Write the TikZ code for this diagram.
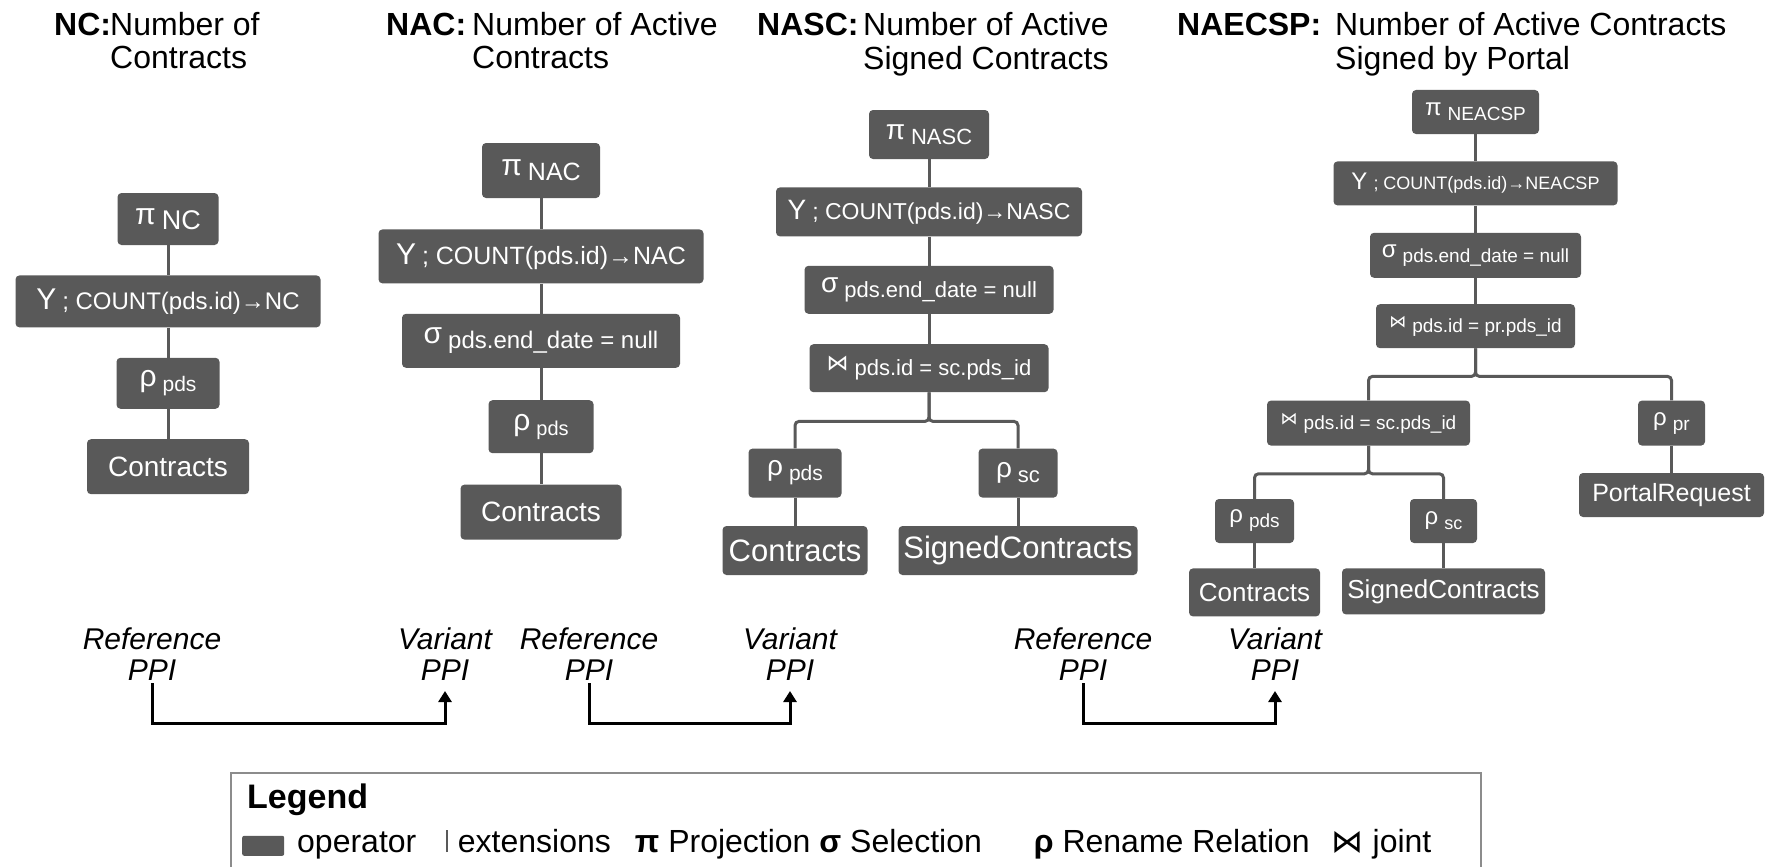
\documentclass[tikz,border=0pt]{standalone}
\usepackage{fontspec}
\setmainfont{Liberation Sans}
\newfontfamily\joinfont{DejaVu Sans}
\usetikzlibrary{positioning,arrows.meta}

\definecolor{opgray}{HTML}{595959}
\definecolor{legendline}{HTML}{8C8C8C}

% operator symbol with a lowered subscript
\newcommand{\opr}[5][5pt]{{\fontsize{#2}{#2}\selectfont #4}\hspace{6pt}\raisebox{-#1}{\fontsize{#3}{#3}\selectfont #5}}

\tikzset{
  op/.style={fill=opgray, rounded corners=4pt, text=white, inner sep=0pt},
  ext/.style={draw=opgray, line width=3pt},
  branch/.style={ext, rounded corners=4pt},
  hdr/.style={inner sep=0pt, anchor=base west, font=\fontsize{32}{33}\selectfont},
  ppi/.style={inner sep=0pt, anchor=base, font=\fontsize{30}{31}\selectfont\itshape},
  ppiarrow/.style={line width=3pt, -{Triangle[length=11pt,width=13pt]}},
  legtext/.style={inner sep=0pt, anchor=base west, font=\fontsize{32}{33}\selectfont},
}

\begin{document}
\begin{tikzpicture}[x=1pt, y=1pt]
    \useasboundingbox (0,0) rectangle (1765,-867);

    % Headers
    \node[hdr] (lNC) at (54,-36) {\bfseries NC:};
    \node[hdr] (tNC) at (110,-36) {\begin{tabular}[t]{@{}l@{}}Number of\\Contracts\end{tabular}};
    \node[hdr] (lNAC) at (386,-36) {\bfseries NAC:};
    \node[hdr] (tNAC) at (472,-36) {\begin{tabular}[t]{@{}l@{}}Number of Active\\Contracts\end{tabular}};
    \node[hdr] (lNASC) at (757,-36) {\bfseries NASC:};
    \node[hdr] (tNASC) at (863,-36) {\begin{tabular}[t]{@{}l@{}}Number of Active\\Signed Contracts\end{tabular}};
    \node[hdr] (lNAE) at (1177,-36) {\bfseries NAECSP:};
    \node[hdr] (tNAE) at (1335,-36) {\begin{tabular}[t]{@{}l@{}}Number of Active Contracts\\Signed by Portal\end{tabular}};

    % NC tree
    \node[op, minimum width=101pt, minimum height=52pt] (piNC) at (168,-219) {\opr{30}{27}{π}{NC}};
    \node[op, minimum width=305pt, minimum height=52pt, below=30pt of piNC] (gNC) {\opr[0pt]{30}{24}{Υ}{; COUNT(pds.id)→NC}};
    \node[op, minimum width=103pt, minimum height=51pt, below=30pt of gNC] (rNC) {\opr{30}{21}{ρ}{pds}};
    \node[op, minimum width=162pt, minimum height=55pt, below=30pt of rNC, font=\fontsize{28}{28}\selectfont] (cNC) {Contracts};
    \draw[ext] (piNC) -- (gNC);
    \draw[ext] (gNC) -- (rNC);
    \draw[ext] (rNC) -- (cNC);

    % NAC tree
    \node[op, minimum width=118pt, minimum height=55pt] (piNAC) at (541,-170.5) {\opr{30}{25}{π}{NAC}};
    \node[op, minimum width=325pt, minimum height=54pt, below=31pt of piNAC] (gNAC) {\opr[0pt]{30}{25}{Υ}{; COUNT(pds.id)→NAC}};
    \node[op, minimum width=278pt, minimum height=54pt, below=30pt of gNAC] (sNAC) {\opr{30}{24}{σ}{pds.end\_date = null}};
    \node[op, minimum width=105pt, minimum height=53pt, below=32pt of sNAC] (rNAC) {\opr{30}{20}{ρ}{pds}};
    \node[op, minimum width=161pt, minimum height=55pt, below=31pt of rNAC, font=\fontsize{28}{28}\selectfont] (cNAC) {Contracts};
    \draw[ext] (piNAC) -- (gNAC);
    \draw[ext] (gNAC) -- (sNAC);
    \draw[ext] (sNAC) -- (rNAC);
    \draw[ext] (rNAC) -- (cNAC);

    % NASC tree
    \node[op, minimum width=120pt, minimum height=49pt] (piNASC) at (929,-134.5) {\opr{28}{22}{π}{NASC}};
    \node[op, minimum width=306pt, minimum height=49pt, below=28pt of piNASC] (gNASC) {\opr[0pt]{28}{23}{Υ}{; COUNT(pds.id)→NASC}};
    \node[op, minimum width=249pt, minimum height=48pt, below=29pt of gNASC] (sNASC) {\opr{28}{22}{σ}{pds.end\_date = null}};
    \node[op, minimum width=239pt, minimum height=48pt, below=30pt of sNASC] (jNASC) {\opr{22}{22}{\joinfont ⋈}{pds.id = sc.pds\_id}};
    \node[op, minimum width=93pt, minimum height=49pt, below=56pt of jNASC, xshift=-134pt] (rpNASC) {\opr{28}{21}{ρ}{pds}};
    \node[op, minimum width=79pt, minimum height=49pt, below=56pt of jNASC, xshift=89pt] (rsNASC) {\opr{28}{22}{ρ}{sc}};
    \node[op, minimum width=145pt, minimum height=49pt, below=28pt of rpNASC, font=\fontsize{31}{31}\selectfont] (cNASC) {Contracts};
    \node[op, minimum width=239pt, minimum height=49pt, below=28pt of rsNASC, font=\fontsize{31}{31}\selectfont] (scNASC) {SignedContracts};
    \draw[ext] (piNASC) -- (gNASC);
    \draw[ext] (gNASC) -- (sNASC);
    \draw[ext] (sNASC) -- (jNASC);
    \draw[branch] (jNASC.south) -- ++(0,-29) -| (rpNASC.north);
    \draw[branch] (jNASC.south) -- ++(0,-29) -| (rsNASC.north);
    \draw[ext] (rpNASC) -- (cNASC);
    \draw[ext] (rsNASC) -- (scNASC);

    % NAECSP tree
    \node[op, minimum width=127pt, minimum height=44pt] (piNAE) at (1475.5,-112) {\opr{24}{19}{π}{NEACSP}};
    \node[op, minimum width=284pt, minimum height=44pt, below=27pt of piNAE] (gNAE) {\opr[0pt]{24}{18}{Υ}{; COUNT(pds.id)→NEACSP}};
    \node[op, minimum width=211pt, minimum height=45pt, below=27pt of gNAE] (sNAE) {\opr{24}{19}{σ}{pds.end\_date = null}};
    \node[op, minimum width=199pt, minimum height=44pt, below=26pt of sNAE] (jprNAE) {\opr{17}{19}{\joinfont ⋈}{pds.id = pr.pds\_id}};
    \node[op, minimum width=203pt, minimum height=45pt, below=52pt of jprNAE, xshift=-107pt] (jscNAE) {\opr{17}{19}{\joinfont ⋈}{pds.id = sc.pds\_id}};
    \node[op, minimum width=67pt, minimum height=45pt, below=52pt of jprNAE, xshift=196pt] (rprNAE) {\opr{24}{19}{ρ}{pr}};
    \node[op, minimum width=185pt, minimum height=44pt, below=27pt of rprNAE, font=\fontsize{25}{25}\selectfont] (prNAE) {PortalRequest};
    \node[op, minimum width=79pt, minimum height=44pt, below=53pt of jscNAE, xshift=-114pt] (rpNAE) {\opr{24}{19}{ρ}{pds}};
    \node[op, minimum width=67pt, minimum height=44pt, below=53pt of jscNAE, xshift=75pt] (rsNAE) {\opr{24}{18}{ρ}{sc}};
    \node[op, minimum width=131pt, minimum height=48pt, below=25pt of rpNAE, font=\fontsize{26}{26}\selectfont] (cNAE) {Contracts};
    \node[op, minimum width=203pt, minimum height=46pt, below=25pt of rsNAE, font=\fontsize{26}{26}\selectfont] (scNAE) {SignedContracts};
    \draw[ext] (piNAE) -- (gNAE);
    \draw[ext] (gNAE) -- (sNAE);
    \draw[ext] (sNAE) -- (jprNAE);
    \draw[branch] (jprNAE.south) -- ++(0,-28) -| (jscNAE.north);
    \draw[branch] (jprNAE.south) -- ++(0,-28) -| (rprNAE.north);
    \draw[ext] (rprNAE) -- (prNAE);
    \draw[branch] (jscNAE.south) -- ++(0,-28) -| (rpNAE.north);
    \draw[branch] (jscNAE.south) -- ++(0,-28) -| (rsNAE.north);
    \draw[ext] (rpNAE) -- (cNAE);
    \draw[ext] (rsNAE) -- (scNAE);

    % Reference -> Variant PPI
    \node[ppi] (ref1) at (152,-680) {\begin{tabular}[b]{@{}c@{}}Reference\\PPI\end{tabular}};
    \node[ppi] (var1) at (445,-680) {\begin{tabular}[b]{@{}c@{}}Variant\\PPI\end{tabular}};
    \node[ppi] (ref2) at (589,-680) {\begin{tabular}[b]{@{}c@{}}Reference\\PPI\end{tabular}};
    \node[ppi] (var2) at (790,-680) {\begin{tabular}[b]{@{}c@{}}Variant\\PPI\end{tabular}};
    \node[ppi] (ref3) at (1083,-680) {\begin{tabular}[b]{@{}c@{}}Reference\\PPI\end{tabular}};
    \node[ppi] (var3) at (1275,-680) {\begin{tabular}[b]{@{}c@{}}Variant\\PPI\end{tabular}};
    \draw[ppiarrow] ([yshift=-3pt]ref1.base) -- ++(0,-40) -| ([yshift=-11pt]var1.base);
    \draw[ppiarrow] ([yshift=-3pt]ref2.base) -- ++(0,-40) -| ([yshift=-11pt]var2.base);
    \draw[ppiarrow] ([yshift=-3pt]ref3.base) -- ++(0,-40) -| ([yshift=-11pt]var3.base);

    % Legend
    \draw[legendline, line width=2pt] (231,-867) |- (1481,-773) -- (1481,-867);
    \node[legtext, font=\fontsize{34}{34}\selectfont\bfseries] (legTitle) at (247,-808) {Legend};
    \node[op, minimum width=42pt, minimum height=20pt, rounded corners=2pt, anchor=south west] (legOp) at (242,-856) {};
    \node[legtext] (legItems) at (297,-852) {operator\hspace{30pt}{\color{opgray}\rule{1.5pt}{22pt}}\hspace{10pt}extensions\hspace{24pt}\textbf{π} Projection \textbf{σ} Selection\hspace{52pt}\textbf{ρ} Rename Relation\hspace{22pt}{\joinfont ⋈} joint};
\end{tikzpicture}
\end{document}
